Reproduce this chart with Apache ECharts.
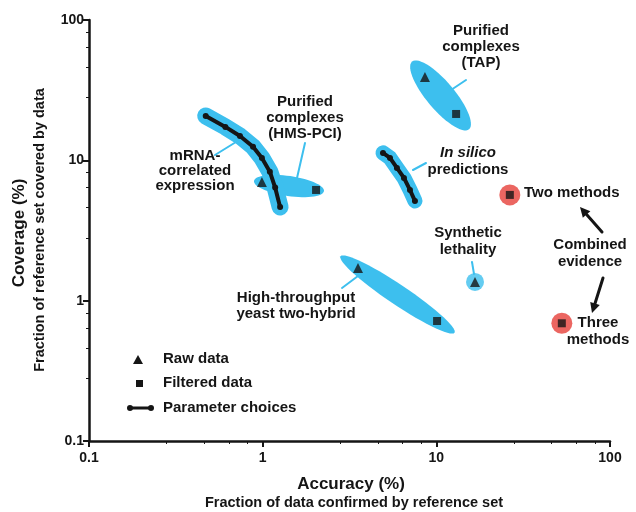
<!DOCTYPE html>
<html><head><meta charset="utf-8">
<script src="https://cdn.jsdelivr.net/npm/echarts@6/dist/echarts.min.js"></script>
<style>html,body{margin:0;padding:0;background:#fff}#c{width:636px;height:512px}</style>
</head><body><div id="c"></div>
<script>
// ---- data (accuracy %, coverage %) ----
const xTicks = ['0.1', '1', '10', '100'];
const yTicks = ['0.1', '1', '10', '100'];
// mRNA co-expression: parameter choices
const mrnaAcc = [0.47, 0.61, 0.74, 0.88, 0.99, 1.10, 1.18, 1.26];
const mrnaCov = [20.7, 17.3, 14.9, 12.5, 10.4, 8.3, 6.4, 4.65];
// In silico predictions: parameter choices
const silicoAcc = [4.93, 5.41, 5.93, 6.51, 7.05, 7.53];
const silicoCov = [11.3, 10.4, 8.83, 7.49, 6.15, 5.14];
// raw data
const rawNames = ['HMS-PCI', 'TAP', 'Two-hybrid', 'Synthetic lethality'];
const rawAcc = [0.99, 8.6, 3.54, 16.7];
const rawCov = [7.0, 39.3, 1.71, 1.36];
// filtered data
const filtNames = ['HMS-PCI', 'TAP', 'Two-hybrid'];
const filtAcc = [2.03, 13.0, 10.1];
const filtCov = [6.15, 21.4, 0.716];
// combined evidence
const combNames = ['Two methods', 'Three methods'];
const combAcc = [26.5, 52.8];
const combCov = [5.67, 0.69];

// ---- styling ----
const CYAN = '#3dbfee';
const RED = '#e6403a';
const INK = '#151515';
const FONT = '"Liberation Sans", Arial, sans-serif';
const blobPad = [8, 20, 21];
const blobHalf = [10, 14, 10];

const chart = echarts.init(document.getElementById('c'), null, {renderer: 'canvas'});

function zip(a, b) { return a.map((v, i) => [v, b[i]]); }

const blobData = filtAcc.map((v, i) => [rawAcc[i], rawCov[i], filtAcc[i], filtCov[i], i]);

function renderBlob(params, api) {
  const i = api.value(4);
  const p1 = api.coord([api.value(0), api.value(1)]);
  const p2 = api.coord([api.value(2), api.value(3)]);
  const cx = (p1[0] + p2[0]) / 2, cy = (p1[1] + p2[1]) / 2;
  const dx = p2[0] - p1[0], dy = p2[1] - p1[1];
  const d = Math.sqrt(dx * dx + dy * dy);
  const ux = dx / d, uy = dy / d, nx = -uy, ny = ux;
  const a = d / 2 + blobPad[i], b = blobHalf[i];
  const pts = [];
  for (let k = 0; k < 60; k++) {
    const t = k / 60 * Math.PI * 2;
    pts.push([cx + ux * a * Math.cos(t) + nx * b * Math.sin(t), cy + uy * a * Math.cos(t) + ny * b * Math.sin(t)]);
  }
  return {type: 'polygon', shape: {points: pts}, style: {fill: CYAN}};
}

function txt(text, x, y, opts) {
  opts = opts || {};
  return {
    type: 'text', x: x, y: y, rotation: opts.rot || 0, z: 50,
    style: {
      text: text, fill: opts.fill || INK,
      font: (opts.italic ? 'italic ' : '') + 'bold ' + (opts.size || 15) + 'px ' + FONT,
      align: opts.align || 'center', verticalAlign: 'middle',
      textAlign: opts.align || 'center', textVerticalAlign: 'middle'
    }
  };
}
function seg(x1, y1, x2, y2, color, w) {
  return {type: 'line', z: 5, shape: {x1, y1, x2, y2}, style: {stroke: color, lineWidth: w, lineCap: 'round'}};
}
function arrow(x1, y1, x2, y2) {
  const dx = x2 - x1, dy = y2 - y1, d = Math.sqrt(dx * dx + dy * dy);
  const ux = dx / d, uy = dy / d, nx = -uy, ny = ux;
  const hl = 10, hw = 5;
  const bx = x2 - ux * hl, by = y2 - uy * hl;
  return [
    seg(x1, y1, bx, by, INK, 3),
    {type: 'polygon', z: 5, shape: {points: [[x2, y2], [bx + nx * hw, by + ny * hw], [bx - nx * hw, by - ny * hw]]}, style: {fill: INK}}
  ];
}

const graphics = [
  // axis titles
  txt('Accuracy (%)', 351, 484, {size: 17}),
  txt('Fraction of data confirmed by reference set', 354, 503, {size: 14.5}),
  txt('Coverage (%)', 19, 233, {size: 17, rot: Math.PI / 2}),
  txt('Fraction of reference set covered by data', 40, 230, {size: 14.5, rot: Math.PI / 2}),
  // labels
  txt('Purified', 481, 31), txt('complexes', 481, 47), txt('(TAP)', 481, 63),
  txt('Purified', 305, 102), txt('complexes', 305, 118), txt('(HMS-PCI)', 305, 134),
  txt('mRNA-', 195, 156), txt('correlated', 195, 171), txt('expression', 195, 186),
  txt('In silico', 468, 153, {italic: true}), txt('predictions', 468, 170),
  txt('Two methods', 524, 193, {align: 'left'}),
  txt('Combined', 590, 245), txt('evidence', 590, 262),
  txt('Three', 598, 323), txt('methods', 598, 340),
  txt('Synthetic', 468, 233), txt('lethality', 468, 250),
  txt('High-throughput', 296, 298), txt('yeast two-hybrid', 296, 314),
  // legend
  txt('Raw data', 163, 359, {align: 'left', size: 15}),
  txt('Filtered data', 163, 383, {align: 'left', size: 15}),
  txt('Parameter choices', 163, 408, {align: 'left', size: 15}),
  {type: 'polygon', shape: {points: [[138, 355], [133, 364], [143, 364]]}, style: {fill: INK}},
  {type: 'rect', shape: {x: 136, y: 380, width: 7, height: 7}, style: {fill: INK}},
  seg(130, 408, 151, 408, INK, 3),
  {type: 'circle', shape: {cx: 130, cy: 408, r: 3}, style: {fill: INK}},
  {type: 'circle', shape: {cx: 151, cy: 408, r: 3}, style: {fill: INK}},
  // leader lines
  seg(215, 155, 236, 142, CYAN, 2),
  seg(305, 143, 297, 178, CYAN, 2),
  seg(466, 80, 451, 90, CYAN, 2),
  seg(426, 163, 413, 170, CYAN, 2),
  seg(472, 262, 474, 274, CYAN, 2),
  seg(342, 288, 358, 276, CYAN, 2)
].concat(arrow(602, 232, 580, 207)).concat(arrow(603, 278, 592, 313));

const option = {
  backgroundColor: '#fff',
  animation: false,
  grid: {left: 89, right: 26, top: 20, bottom: 71},
  xAxis: {
    type: 'log', logBase: 10, min: 0.1, max: 100,
    axisLine: {lineStyle: {color: INK, width: 2.5}},
    axisTick: {length: 6, lineStyle: {color: INK, width: 2}},
    minorTick: {show: true, splitNumber: 5, length: 3, lineStyle: {color: INK, width: 1}},
    splitLine: {show: false},
    axisLabel: {color: INK, fontSize: 14, fontWeight: 'bold', fontFamily: FONT, margin: 10,
      formatter: v => xTicks[Math.round(Math.log10(v)) + 1]}
  },
  yAxis: {
    type: 'log', logBase: 10, min: 0.1, max: 100,
    axisLine: {lineStyle: {color: INK, width: 2.5}},
    axisTick: {length: 6, lineStyle: {color: INK, width: 2}},
    minorTick: {show: true, splitNumber: 5, length: 3, lineStyle: {color: INK, width: 1}},
    splitLine: {show: false},
    axisLabel: {color: INK, fontSize: 14, fontWeight: 'bold', fontFamily: FONT, margin: 5,
      formatter: v => yTicks[Math.round(Math.log10(v)) + 1]}
  },
  graphic: graphics,
  series: [
    {type: 'custom', name: 'blobs', data: blobData, renderItem: renderBlob,
      encode: {x: [0, 2], y: [1, 3]}, z: 1, silent: true},
    {type: 'scatter', name: 'SL blob', data: [[rawAcc[3], rawCov[3]]], symbol: 'circle', symbolSize: 18,
      itemStyle: {color: CYAN}, z: 1, silent: true},
    {type: 'line', name: 'mRNA blob', data: zip(mrnaAcc, mrnaCov), showSymbol: false, symbol: 'none',
      lineStyle: {color: CYAN, width: 17, cap: 'round', join: 'round'}, z: 2, silent: true},
    {type: 'line', name: 'silico blob', data: zip(silicoAcc, silicoCov), showSymbol: false, symbol: 'none',
      lineStyle: {color: CYAN, width: 15, cap: 'round', join: 'round'}, z: 2, silent: true},
    {type: 'line', name: 'mRNA', data: zip(mrnaAcc, mrnaCov), symbol: 'circle', symbolSize: 6, showSymbol: true,
      itemStyle: {color: INK}, lineStyle: {color: INK, width: 4, cap: 'round', join: 'round'}, z: 3},
    {type: 'line', name: 'In silico', data: zip(silicoAcc, silicoCov), symbol: 'circle', symbolSize: 6, showSymbol: true,
      itemStyle: {color: INK}, lineStyle: {color: INK, width: 4, cap: 'round', join: 'round'}, z: 3},
    {type: 'scatter', name: 'Combined ring', data: zip(combAcc, combCov), symbol: 'circle', symbolSize: 21,
      itemStyle: {color: RED}, z: 3},
    {type: 'scatter', name: 'Raw data', data: zip(rawAcc, rawCov), symbol: 'triangle', symbolSize: 10,
      itemStyle: {color: INK}, z: 4},
    {type: 'scatter', name: 'Filtered data', data: zip(filtAcc, filtCov).concat(zip(combAcc, combCov)), symbol: 'rect', symbolSize: 8,
      itemStyle: {color: INK}, z: 4}
  ]
};
chart.setOption(option);
</script>
</body></html>
